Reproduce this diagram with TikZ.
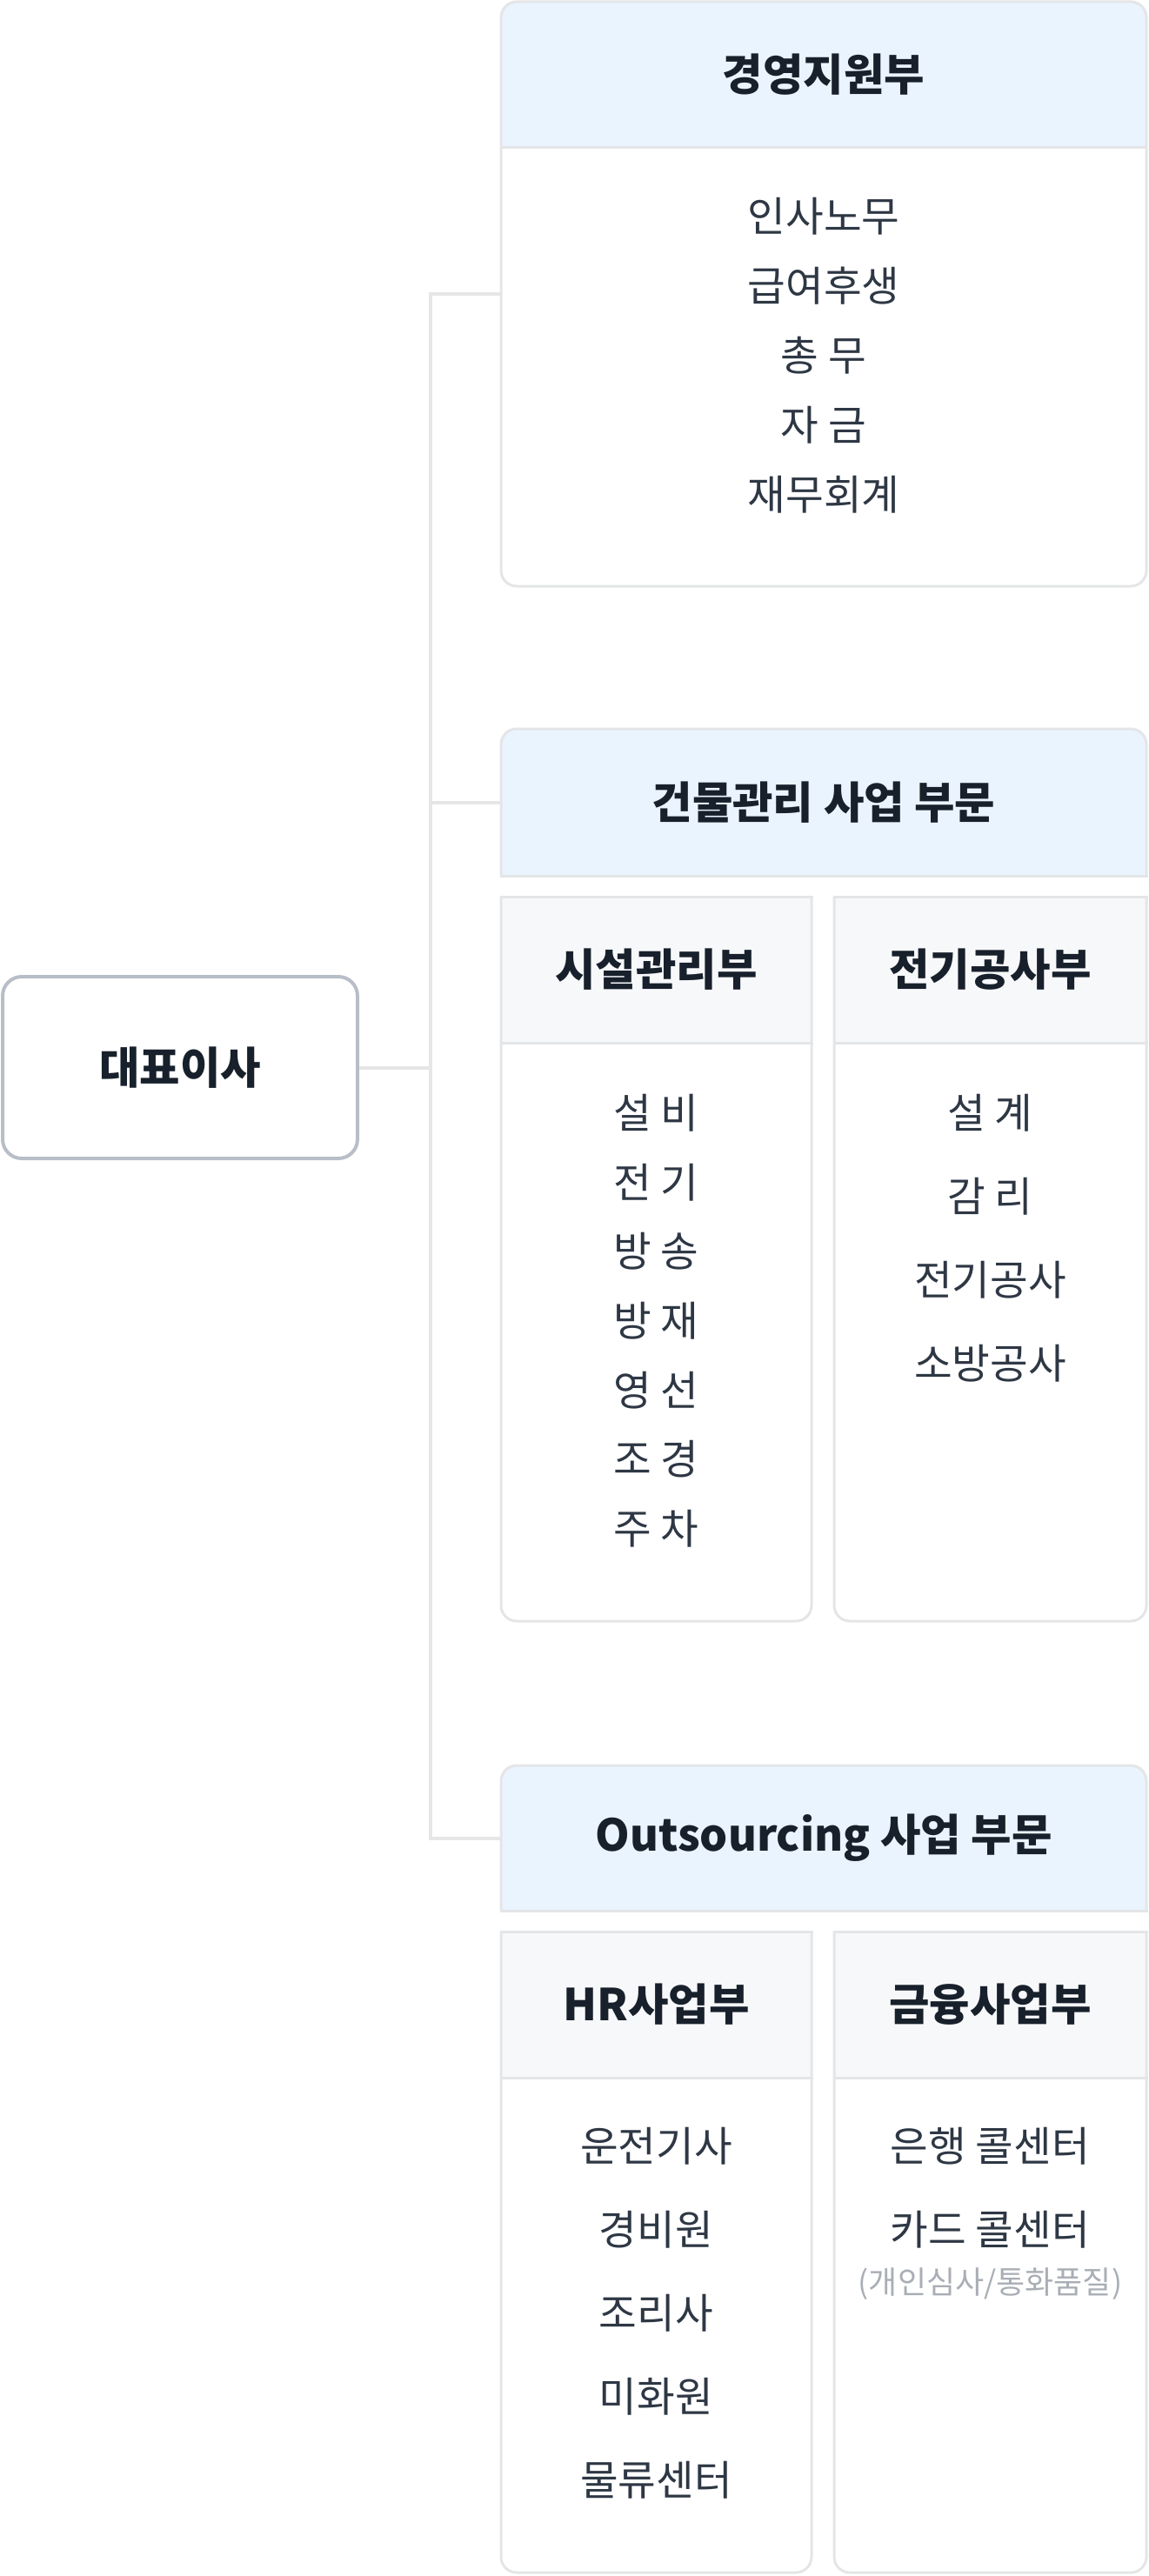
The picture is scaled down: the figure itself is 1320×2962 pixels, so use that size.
\documentclass[tikz,border=0pt]{standalone}
\usepackage{fontspec}
\setmainfont{Noto Sans CJK KR}
\definecolor{hblue}{HTML}{EAF4FE}
\definecolor{subfill}{HTML}{F7F8FA}
\definecolor{bdc}{HTML}{E4E5E7}
\definecolor{ceoc}{HTML}{B8BEC7}
\definecolor{cnc}{HTML}{E6E6E6}
\definecolor{tdark}{HTML}{17202B}
\definecolor{titem}{HTML}{2E3744}
\definecolor{tnote}{HTML}{A9AEB5}
\begin{document}
\begin{tikzpicture}[x=1pt,y=-1pt,
  bd/.style={draw=bdc, line width=3pt},
  bdl/.style={draw=bdc, line width=3pt, line cap=rect},
  conn/.style={draw=cnc, line width=4pt},
  ttl/.style={font=\fontsize{50.5}{58}\selectfont\bfseries, text=tdark},
  itm/.style={font=\fontsize{47.5}{55}\selectfont, text=titem},
  note/.style={font=\fontsize{36}{42}\selectfont, text=tnote},
  ]
\useasboundingbox (0,0) rectangle (1320,2962);

% ---------- CEO ----------
\node[draw=ceoc, line width=4pt, rounded corners=22pt, minimum width=408pt,
      minimum height=209pt, fill=white, ttl] (ceo) at (207,1227.5) {대표이사};

% ---------- Box 1 : 경영지원부 ----------
\fill[hblue, rounded corners=18pt] (576,2) rectangle (1318,170);
\fill[hblue] (576,100) rectangle (1318,170);
\draw[bd] (576,170) -- (1318,170);
\node[bd, rounded corners=18pt, minimum width=742pt, minimum height=672pt, inner sep=0pt] (b1) at (947,338) {};
\node[ttl] (t1) at (947,86) {경영지원부};
\node[itm] (i11) at (947,249) {인사노무};
\node[itm] (i12) at (947,329) {급여후생};
\node[itm] (i13) at (947,409) {총 무};
\node[itm] (i14) at (947,489) {자 금};
\node[itm] (i15) at (947,569) {재무회계};

% ---------- Section 2 : 건물관리 사업 부문 ----------
\fill[hblue, rounded corners=18pt] (576,838) rectangle (1318,1007);
\fill[hblue] (576,920) rectangle (1318,1007);
\draw[bd, rounded corners=18pt] (576,1007) -- (576,838) -- (1318,838) -- (1318,1007);
\draw[bdl] (576,1007) -- (1318,1007);
\node[ttl, minimum width=742pt, minimum height=169pt, inner sep=0pt] (h2) at (947,922.5) {건물관리 사업 부문};

% sub A : 시설관리부
\fill[subfill] (576,1031) rectangle (933,1199);
\draw[bd, rounded corners=18pt] (576,1031) -- (576,1864) -- (933,1864) -- (933,1031);
\draw[bdl] (576,1031) -- (933,1031);
\draw[bdl] (576,1199) -- (933,1199);
\node[ttl] (sa) at (754.5,1115) {시설관리부};
\node[itm] (a1) at (754.5,1280) {설 비};
\node[itm] (a2) at (754.5,1360) {전 기};
\node[itm] (a3) at (754.5,1439) {방 송};
\node[itm] (a4) at (754.5,1519) {방 재};
\node[itm] (a5) at (754.5,1599) {영 선};
\node[itm] (a6) at (754.5,1678) {조 경};
\node[itm] (a7) at (754.5,1758) {주 차};

% sub B : 전기공사부
\fill[subfill] (959,1031) rectangle (1318,1199);
\draw[bd, rounded corners=18pt] (959,1031) -- (959,1864) -- (1318,1864) -- (1318,1031);
\draw[bdl] (959,1031) -- (1318,1031);
\draw[bdl] (959,1199) -- (1318,1199);
\node[ttl] (sb) at (1138.5,1115) {전기공사부};
\node[itm] (b1i) at (1138.5,1280) {설 계};
\node[itm] (b2i) at (1138.5,1376) {감 리};
\node[itm] (b3i) at (1138.5,1472) {전기공사};
\node[itm] (b4i) at (1138.5,1568) {소방공사};

% ---------- Section 3 : Outsourcing 사업 부문 ----------
\fill[hblue, rounded corners=18pt] (576,2030) rectangle (1318,2197);
\fill[hblue] (576,2110) rectangle (1318,2197);
\draw[bd, rounded corners=18pt] (576,2197) -- (576,2030) -- (1318,2030) -- (1318,2197);
\draw[bdl] (576,2197) -- (1318,2197);
\node[ttl, minimum width=742pt, minimum height=167pt, inner sep=0pt] (h3) at (947,2113.5) {Outsourcing 사업 부문};

% sub C : HR사업부
\fill[subfill] (576,2221) rectangle (933,2389);
\draw[bd, rounded corners=18pt] (576,2221) -- (576,2958) -- (933,2958) -- (933,2221);
\draw[bdl] (576,2221) -- (933,2221);
\draw[bdl] (576,2389) -- (933,2389);
\node[ttl] (sc) at (754.5,2305) {HR사업부};
\node[itm] (c1) at (754.5,2468) {운전기사};
\node[itm] (c2) at (754.5,2564) {경비원};
\node[itm] (c3) at (754.5,2660) {조리사};
\node[itm] (c4) at (754.5,2756) {미화원};
\node[itm] (c5) at (754.5,2852) {물류센터};

% sub D : 금융사업부
\fill[subfill] (959,2221) rectangle (1318,2389);
\draw[bd, rounded corners=18pt] (959,2221) -- (959,2958) -- (1318,2958) -- (1318,2221);
\draw[bdl] (959,2221) -- (1318,2221);
\draw[bdl] (959,2389) -- (1318,2389);
\node[ttl] (sd) at (1138.5,2305) {금융사업부};
\node[itm] (d1) at (1138.5,2468) {은행 콜센터};
\node[itm] (d2) at (1138.5,2564) {카드 콜센터};
\node[note] (d3) at (1138.5,2626) {(개인심사/통화품질)};

% ---------- Connectors ----------
\coordinate (sp) at (495,1227.5);
\draw[conn] (ceo.east) -- (sp);
\draw[conn] (b1.west) -- (b1.west -| sp) -- (h3.west -| sp) -- (h3.west);
\draw[conn] (h2.west) -- (h2.west -| sp);
\end{tikzpicture}
\end{document}
